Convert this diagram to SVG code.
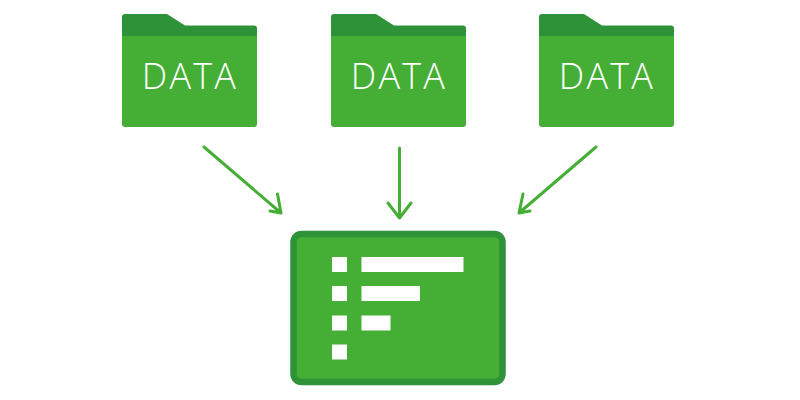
<svg xmlns="http://www.w3.org/2000/svg" width="800" height="400" viewBox="0 0 800 400">
<style>
.tab{fill:#2e9338}
.body{fill:#45ae35}
.lbl{font-family:"Open Sans","Noto Sans",sans-serif;font-size:36px;font-weight:300;fill:#fff;text-anchor:middle;letter-spacing:2.200px}
.w{fill:#fff}
.c{fill:none;stroke:#45ae35;stroke-width:3;stroke-linecap:round;stroke-linejoin:round}
</style>
<defs>
<g id="folder">
<path class="tab" d="M0 22V3Q0 0 3 0H45L63 11.500H132Q135 11.500 135 14.500V24H0Z" transform="translate(0,14)"/>
<path class="body" d="M0 36H135V124Q135 127 132 127H3Q0 127 0 124Z"/>
</g>
</defs>
<g id="connectors">
<path class="c" d="M204 147L281 213M270 211L281 213L277.500 194"/>
<path class="c" d="M399.500 148V218M388 203L399.500 218L411 203"/>
<path class="c" d="M596 147L519 213M530 211L519 213L523 194"/>
</g>
<g id="folder1"><use href="#folder" x="122" y="0"/><text class="lbl" x="190" y="89">DATA</text></g>
<g id="folder2"><use href="#folder" x="331" y="0"/><text class="lbl" x="399" y="89">DATA</text></g>
<g id="folder3"><use href="#folder" x="539" y="0"/><text class="lbl" x="607" y="89">DATA</text></g>
<g id="list">
<rect x="293.500" y="234" width="209" height="148" rx="8" fill="#45ae35" stroke="#2e9338" stroke-width="6.500"/>
<rect class="w" x="332" y="257" width="15" height="15"/><rect class="w" x="361.500" y="257" width="102" height="15"/>
<rect class="w" x="332" y="286" width="15" height="15"/><rect class="w" x="361.500" y="286" width="58.500" height="15"/>
<rect class="w" x="332" y="315.500" width="15" height="15"/><rect class="w" x="361.500" y="315.500" width="29" height="15"/>
<rect class="w" x="332" y="344.500" width="15" height="15"/>
</g>
</svg>
